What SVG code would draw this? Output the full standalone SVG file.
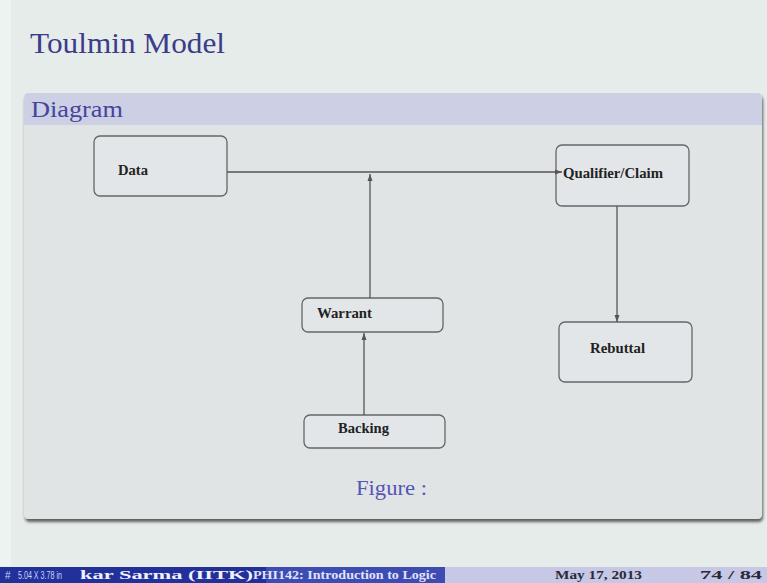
<svg xmlns="http://www.w3.org/2000/svg" width="767" height="583" viewBox="0 0 767 583">
<defs>
<marker id="ah" markerWidth="8" markerHeight="6" refX="7" refY="3" orient="auto" markerUnits="userSpaceOnUse">
<path d="M0,0.5 L7,3 L0,5.5 Z" fill="#555"/>
</marker>
<filter id="sh" x="-5%" y="-5%" width="110%" height="115%">
<feGaussianBlur in="SourceAlpha" stdDeviation="1.5"/>
<feOffset dx="1" dy="2.5"/>
<feComponentTransfer><feFuncA type="linear" slope="0.6"/></feComponentTransfer>
<feMerge><feMergeNode/><feMergeNode in="SourceGraphic"/></feMerge>
</filter>
</defs>
<style>
.box{fill:#e3e6e8;stroke:#666;stroke-width:1.3}
.lbl{font-family:"Liberation Serif",serif;font-weight:bold;font-size:14px;fill:#222}
.con{stroke:#555;stroke-width:1.3;fill:none}
.ser{font-family:"Liberation Serif",serif}
.ft{font-family:"Liberation Serif",serif;font-weight:bold;font-size:12px}
</style>
<rect x="0" y="0" width="767" height="583" fill="#e5ece9"/>
<rect x="0" y="0" width="11" height="566" fill="#edf3f0"/>
<text class="ser" x="30" y="53" font-size="30" fill="#3c3c8a" textLength="195" lengthAdjust="spacingAndGlyphs">Toulmin Model</text>
<g filter="url(#sh)">
<path d="M24,98 Q24,93 29,93 L757,93 Q762,93 762,98 L762,514 Q762,519 757,519 L29,519 Q24,519 24,514 Z" fill="#e1e4e5"/>
</g>
<path d="M24,98 Q24,93 29,93 L757,93 Q762,93 762,98 L762,125 L24,125 Z" fill="#cdcfe5"/>
<text class="ser" x="31" y="117" font-size="23" fill="#45459a" textLength="92" lengthAdjust="spacingAndGlyphs">Diagram</text>
<g id="data">
<rect class="box" x="94" y="136" width="133" height="60" rx="6"/>
<text class="lbl" x="118" y="175" textLength="30" lengthAdjust="spacingAndGlyphs">Data</text>
</g>
<g id="qualifier">
<rect class="box" x="556" y="145" width="133" height="61" rx="6"/>
<text class="lbl" x="563" y="178" textLength="100" lengthAdjust="spacingAndGlyphs">Qualifier/Claim</text>
</g>
<g id="warrant">
<rect class="box" x="302" y="298" width="141" height="34" rx="6"/>
<text class="lbl" x="317" y="318" textLength="55" lengthAdjust="spacingAndGlyphs">Warrant</text>
</g>
<g id="rebuttal">
<rect class="box" x="559" y="322" width="133" height="60" rx="6"/>
<text class="lbl" x="590" y="353" textLength="55" lengthAdjust="spacingAndGlyphs">Rebuttal</text>
</g>
<g id="backing">
<rect class="box" x="304" y="415" width="141" height="33" rx="6"/>
<text class="lbl" x="338" y="433" textLength="51" lengthAdjust="spacingAndGlyphs">Backing</text>
</g>
<g id="connectors">
<line class="con" x1="227" y1="172" x2="562" y2="172" marker-end="url(#ah)"/>
<line class="con" x1="370" y1="298" x2="370" y2="174" marker-end="url(#ah)"/>
<line class="con" x1="364" y1="415" x2="364" y2="333" marker-end="url(#ah)"/>
<line class="con" x1="617" y1="206" x2="617" y2="322" marker-end="url(#ah)"/>
</g>
<text class="ser" x="356" y="495" font-size="20" fill="#5555b5" textLength="71" lengthAdjust="spacingAndGlyphs">Figure :</text>
<rect x="0" y="567" width="266" height="16" fill="#22309a"/>
<rect x="266" y="567" width="179" height="16" fill="#3d4cb0"/>
<rect x="445" y="567" width="322" height="16" fill="#c6c8e6"/>
<text x="5" y="579" font-family="'Liberation Sans', sans-serif" font-size="10" fill="#c8d0ff">#</text>
<text x="18" y="579" font-family="'Liberation Sans', sans-serif" font-size="10" fill="#c8d0ff" textLength="44" lengthAdjust="spacingAndGlyphs">5.04 X 3.78 in</text>
<text class="ft" x="80" y="579" fill="#f2f2ff" textLength="173" lengthAdjust="spacingAndGlyphs">kar Sarma (IITK)</text>
<text class="ft" x="253" y="579" fill="#e0e2ff" textLength="183" lengthAdjust="spacingAndGlyphs">PHI142: Introduction to Logic</text>
<text class="ft" x="555" y="579" fill="#2a2a3a" textLength="87" lengthAdjust="spacingAndGlyphs">May 17, 2013</text>
<text class="ft" x="700" y="579" fill="#2a2a3a" textLength="62" lengthAdjust="spacingAndGlyphs">74 / 84</text>
</svg>
